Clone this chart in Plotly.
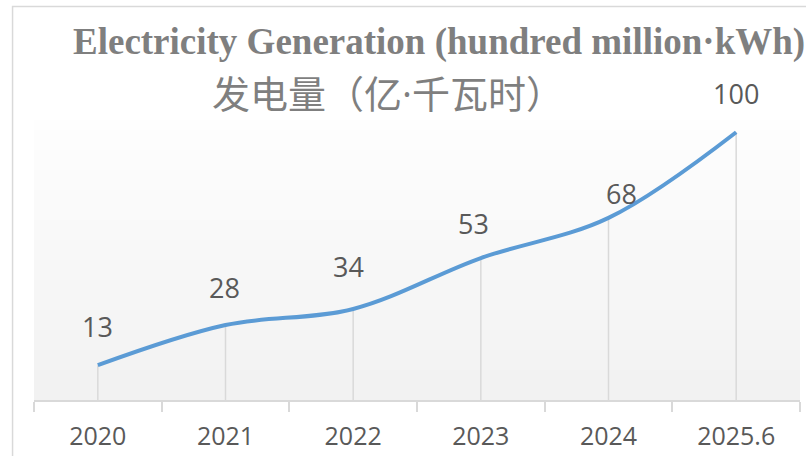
"""Electricity generation line chart (spline with drop lines)."""

import plotly.graph_objects as go

years = ["2020", "2021", "2022", "2023", "2024", "2025.6"]
generation = [13, 28, 34, 53, 68, 100]

title_en = "Electricity Generation (hundred million·kWh)"
title_zh = "发电量（亿<span style='font-family:Open Sans'>·</span>千瓦时）"

# label nudges (px) so the text sits where the original did
label_dx = [0, -1, -5, -7, 13, 0]
label_dy = [39, 38, 42, 35, 24, 39]

LINE = "#5b9bd5"
GRID = "#d9d9d9"
TEXT = "#595959"
TITLE = "#7f7f7f"

pos = list(range(len(years)))
bounds = [p - 0.5 for p in pos] + [pos[-1] + 0.5]

fig = go.Figure()

# drop lines from each point down to the axis
fig.add_trace(
    go.Scatter(
        x=pos,
        y=generation,
        mode="markers",
        marker=dict(size=1, color="rgba(0,0,0,0)"),
        error_y=dict(
            type="data",
            symmetric=False,
            array=[0] * len(generation),
            arrayminus=generation,
            color=GRID,
            thickness=1.5,
            width=0,
        ),
        hoverinfo="skip",
        showlegend=False,
        cliponaxis=False,
    )
)

fig.add_trace(
    go.Scatter(
        x=pos,
        y=generation,
        mode="lines",
        line=dict(color=LINE, width=4, shape="spline", smoothing=1),
        showlegend=False,
        cliponaxis=False,
    )
)

for p, val, dx, dy in zip(pos, generation, label_dx, label_dy):
    fig.add_annotation(
        x=p,
        y=val,
        text=str(val),
        showarrow=False,
        xshift=dx,
        yshift=dy,
        font=dict(family="Open Sans", size=27, color=TEXT),
    )

# plot-area fill: soft vertical gradient, lighter at the top
bands = 28
for i in range(bands):
    t = i / (bands - 1)
    c = int(242 + (254 - 242) * t)
    fig.add_shape(
        type="rect",
        xref="paper",
        yref="paper",
        x0=0,
        x1=1,
        y0=i / bands,
        y1=(i + 1) / bands + 0.001,
        line_width=0,
        fillcolor=f"rgb({c},{c},{c})",
        layer="below",
    )

# chart-area border (runs off the right/bottom of the crop)
fig.add_shape(
    type="rect",
    xref="paper",
    yref="paper",
    x0=-0.028,
    x1=1.3,
    y0=-0.5,
    y1=1.405,
    line=dict(color=GRID, width=1.5),
    fillcolor="rgba(0,0,0,0)",
    layer="below",
)

fig.add_annotation(
    text=title_en,
    xref="paper",
    yref="paper",
    x=0.529,
    y=1.28,
    xanchor="center",
    yanchor="middle",
    showarrow=False,
    font=dict(family="Liberation Serif", size=37, color=TITLE, weight="bold"),
)
fig.add_annotation(
    text=title_zh,
    xref="paper",
    yref="paper",
    x=0.462,
    y=1.103,
    xanchor="center",
    yanchor="middle",
    showarrow=False,
    font=dict(family="Noto Sans CJK SC", size=38, color=TITLE),
)

fig.update_xaxes(
    range=[bounds[0], bounds[-1]],
    tickvals=pos,
    ticktext=years,
    ticks="",
    showline=True,
    linecolor=GRID,
    linewidth=1.5,
    showgrid=False,
    zeroline=False,
    tickfont=dict(family="Open Sans", size=25, color=TEXT),
    ticklabelstandoff=13,
    minor=dict(
        tickvals=bounds,
        ticks="outside",
        ticklen=10,
        tickcolor=GRID,
        tickwidth=1.5,
        showgrid=False,
    ),
    automargin=False,
    fixedrange=True,
)
fig.update_yaxes(visible=False, range=[0, 104.56], fixedrange=True)

fig.update_layout(
    width=806,
    height=456,
    margin=dict(l=34, r=6, t=120, b=56),
    paper_bgcolor="white",
    plot_bgcolor="rgba(0,0,0,0)",
    showlegend=False,
    hovermode=False,
)

# drop the browser's default 8px body margin so the figure sits at 0,0
fig.write_html(
    "out.html",
    config={"displayModeBar": False},
    post_script="document.body.style.margin='0';document.body.style.overflow='hidden';",
)
